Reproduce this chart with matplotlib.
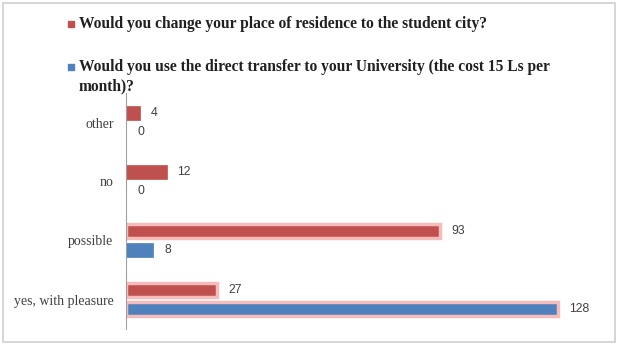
import numpy as np
import matplotlib
matplotlib.use('Agg')
import matplotlib.pyplot as plt
from matplotlib.patches import Rectangle

# Дані
categories = ['yes, with pleasure', 'possible', 'no', 'other']
residence = [27, 93, 12, 4]
transfer = [128, 8, 0, 0]
series_names = [
    'Would you change your place of residence to the student city?',
    'Would you use the direct transfer to your University (the cost 15 Ls per\nmonth)?',
]

red = '#c0504d'
blue = '#4f81bd'
glow = '#f6bcbc'

fig = plt.figure(figsize=(6.2, 3.5), dpi=100)
fig.patch.set_facecolor('white')

# рамка навколо діаграми
fig.patches.append(Rectangle((3 / 620, 1 - 342 / 350), 612 / 620, 339 / 350,
                             transform=fig.transFigure, fill=False,
                             edgecolor='#d0d0d0', linewidth=1.2))

ax = fig.add_axes([126 / 620, 1 - 329 / 350, 472.5 / 620, 236 / 350])

y = np.arange(len(categories))
h = 0.25
off = 0.16

# підсвічені бари (з рожевим ореолом)
glow_red = [True, True, False, False]
glow_blue = [True, False, False, False]

bars_r = ax.barh(y + off, residence, height=h, color=red,
                 edgecolor=[glow if g else red for g in glow_red],
                 linewidth=[2.5 if g else 0.5 for g in glow_red])
bars_b = ax.barh(y - off, transfer, height=h, color=blue,
                 edgecolor=[glow if g else blue for g in glow_blue],
                 linewidth=[2.5 if g else 0.5 for g in glow_blue])

for bars, vals in [(bars_r, residence), (bars_b, transfer)]:
    for b, v in zip(bars, vals):
        ax.annotate(str(v), (v, b.get_y() + b.get_height() / 2),
                    xytext=(8, 0), textcoords='offset points',
                    ha='left', va='center', fontsize=8.8,
                    family='Liberation Sans', color='#404040')

ax.set_xlim(0, 140)
ax.set_ylim(-0.5, len(categories) - 0.5)
ax.set_yticks(y)
ax.set_yticklabels(categories, family='Liberation Serif', fontsize=10, color='#404040')
ax.tick_params(axis='y', length=0, pad=9)
ax.set_xticks([])
for s in ['top', 'right', 'bottom']:
    ax.spines[s].set_visible(False)
ax.spines['left'].set_color('#a0a0a0')

# легенда зверху
legend_items = [(red, series_names[0], 24), (blue, series_names[1], 67)]
for col, txt, ypx in legend_items:
    fig.patches.append(Rectangle((68 / 620, 1 - (ypx + 3) / 350), 6 / 620, 6 / 350,
                                 transform=fig.transFigure, color=col))
    for i, line in enumerate(txt.split('\n')):
        fig.text(79 / 620, 1 - (ypx + 4 + 19 * i) / 350, line, ha='left', va='baseline',
                 fontsize=11.2, fontweight='bold', family='Liberation Serif',
                 color='#202020')

fig.savefig('out.png', dpi=100)
